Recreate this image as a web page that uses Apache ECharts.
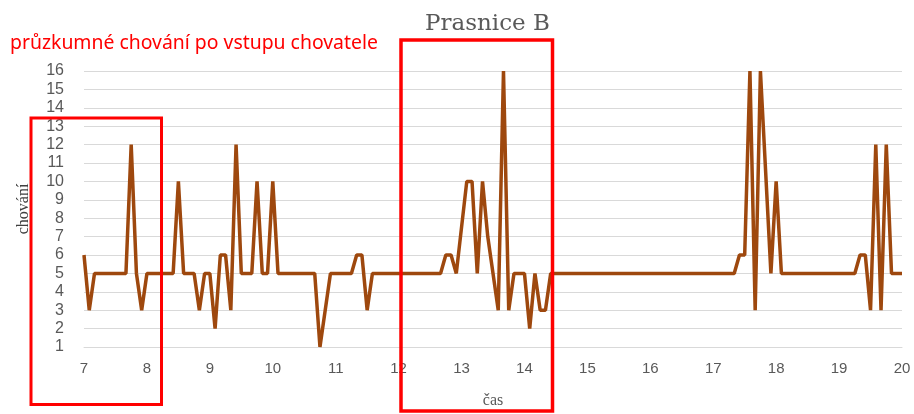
<!DOCTYPE html>
<html>
<head>
<meta charset="utf-8">
<script src="https://cdn.jsdelivr.net/npm/echarts@6/dist/echarts.min.js"></script>
<style>
html,body{margin:0;padding:0;background:#fff;}
#c{width:914px;height:414px;}
</style>
</head>
<body>
<div id="c"></div>
<script>
// Data
var chartTitle = 'Prasnice B';
var note = 'průzkumné chování po vstupu chovatele';
var xName = 'čas';
var yName = 'chování';
var times = ['7:00','7:05','7:10','7:40','7:45','7:50','7:55','8:00','8:25','8:30','8:35','8:45','8:50','8:55',
  '9:00','9:05','9:10','9:15','9:20','9:25','9:30','9:40','9:45','9:50','9:55','10:00','10:05','10:40','10:45','10:55',
  '11:15','11:20','11:25','11:30','11:35','12:40','12:45','12:50','12:55','13:05','13:10','13:15','13:20','13:25',
  '13:35','13:40','13:45','13:50','14:00','14:05','14:10','14:15','14:20','14:25','17:20','17:25','17:30','17:35',
  '17:40','17:45','17:55','18:00','18:05','19:15','19:20','19:25','19:30','19:35','19:40','19:45','19:50','20:00'];
var values = [6,3,5,5,12,5,3,5,5,10,5,5,3,5,
  5,2,6,6,3,12,5,5,10,5,5,10,5,5,1,5,
  5,6,6,3,5,5,6,6,5,10,10,5,10,7,
  3,16,3,5,5,2,5,3,3,5,5,6,6,16,
  3,16,5,10,5,5,6,6,3,12,3,12,5,5];
var xTicks = [7,8,9,10,11,12,13,14,15,16,17,18,19,20];
var yTicks = [1,2,3,4,5,6,7,8,9,10,11,12,13,14,15,16];

function toHours(t){ var p = t.split(':'); return (+p[0]) + (+p[1])/60; }
var seriesData = times.map(function(t,i){ return [toHours(t), values[i]]; });

var chart = echarts.init(document.getElementById('c'));
chart.setOption({
  animation: false,
  backgroundColor: '#ffffff',
  title: {
    text: chartTitle, left: 420, top: 8,
    textStyle: {fontFamily: 'DejaVu Serif', fontSize: 23, fontWeight: 'normal', color: '#595959'}
  },
  grid: {left: 84, right: 12, top: 71, bottom: 67},
  xAxis: {
    type: 'value', min: xTicks[0], max: xTicks[xTicks.length-1], interval: 1,
    name: xName, nameLocation: 'middle', nameGap: 46,
    nameTextStyle: {fontFamily: 'Liberation Serif', fontSize: 16, color: '#595959'},
    axisLine: {show: true, lineStyle: {color: '#D9D9D9', width: 1}},
    axisTick: {show: false},
    splitLine: {show: false},
    axisLabel: {color: '#595959', fontSize: 15, fontFamily: 'Liberation Sans', margin: 14}
  },
  yAxis: {
    type: 'value', min: yTicks[0], max: yTicks[yTicks.length-1], interval: 1,
    name: yName, nameLocation: 'middle', nameGap: 52, nameRotate: 90,
    nameTextStyle: {fontFamily: 'Liberation Serif', fontSize: 16, color: '#404040'},
    axisLine: {show: false},
    axisTick: {show: false},
    splitLine: {show: true, lineStyle: {color: '#D9D9D9', width: 1}},
    axisLabel: {color: '#595959', fontSize: 16, fontFamily: 'Liberation Sans', margin: 20}
  },
  series: [{
    type: 'line',
    data: seriesData,
    showSymbol: false,
    clip: false,
    lineStyle: {color: '#9E480E', width: 3.5},
    itemStyle: {color: '#9E480E'}
  }],
  graphic: [
    {type: 'text', left: 10, top: 34, z: 100,
     style: {text: note, fill: '#FF0000', font: '19.4px "Noto Sans"'}},
    {type: 'rect', z: 100, shape: {x: 31, y: 118, width: 130.5, height: 286.5},
     style: {fill: 'none', stroke: '#FF0000', lineWidth: 3}},
    {type: 'rect', z: 100, shape: {x: 401, y: 40, width: 151.5, height: 371},
     style: {fill: 'none', stroke: '#FF0000', lineWidth: 3.5}}
  ]
});
</script>
</body>
</html>
